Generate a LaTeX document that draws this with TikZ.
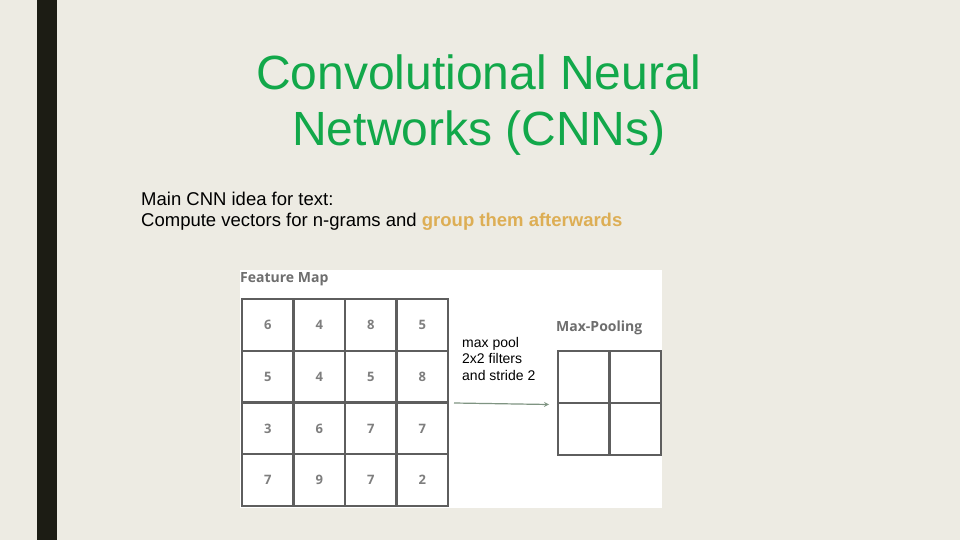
\documentclass[tikz,border=0pt]{standalone}
\usepackage{fontspec}
\setmainfont{Liberation Sans}
\newfontfamily\grid{Open Sans}
\definecolor{bg}{HTML}{EDEBE3}
\definecolor{bar}{HTML}{1C1C14}
\definecolor{ttl}{HTML}{12A84A}
\definecolor{gold}{HTML}{DDAE55}
\definecolor{gl}{HTML}{5E5E5E}
\definecolor{arr}{HTML}{7F9482}
\begin{document}
\begin{tikzpicture}[x=1pt,y=-1pt,
  lbl/.style={font=\grid\bfseries\fontsize{14}{16}\selectfont,text=gl!90,anchor=west,inner sep=0},
  num/.style={font=\grid\bfseries\fontsize{13}{15}\selectfont,text=gl!80},
  gridline/.style={gl,line width=2.2pt}]
\fill[bg] (0,0) rectangle (960,540);
\useasboundingbox (0,0) rectangle (960,540);
\fill[bar] (37,0) rectangle (57,540);
\node[text=ttl,font=\fontsize{48}{56}\selectfont,align=center] (title) at (479,105) {Convolutional Neural\\Networks (CNNs)};
\node[anchor=west,inner sep=0,font=\fontsize{18.5}{21}\selectfont,align=left] (txt) at (141,211) {Main CNN idea for text:\\Compute vectors for n-grams and \textcolor{gold}{\bfseries group them afterwards}};
\fill[white] (240,270) rectangle (662,508);
\node[lbl] (fm) at (240,279) {Feature Map};
\node[lbl] (mp) at (556,328) {Max-Pooling};
\foreach \k in {0,...,4}{
  \draw[gridline] (242+\k*51.5,298) -- (242+\k*51.5,506);
  \draw[gridline] (241,299+\k*51.75) -- (449,299+\k*51.75);
}
\foreach \r [count=\i from 0] in {{6,4,8,5},{5,4,5,8},{3,6,7,7},{7,9,7,2}}{
  \foreach \v [count=\j from 0] in \r {
    \node[num] (c\i\j) at (267.75+\j*51.5,324.9+\i*51.75) {\v};
  }
}
\draw[gridline] (558,351) rectangle (661,455);
\draw[gridline] (609.5,351) -- (609.5,455) (558,403) -- (661,403);
\node[anchor=north west,inner sep=0,font=\fontsize{14}{16.5}\selectfont,align=left] (mpl) at (462,337) {max pool\\2x2 filters\\and stride 2};
\coordinate (a1) at (454,403);
\coordinate (a2) at (549,404.5);
\draw[arr,line width=1.2pt,-stealth] (a1) -- (a2);
\end{tikzpicture}
\end{document}
